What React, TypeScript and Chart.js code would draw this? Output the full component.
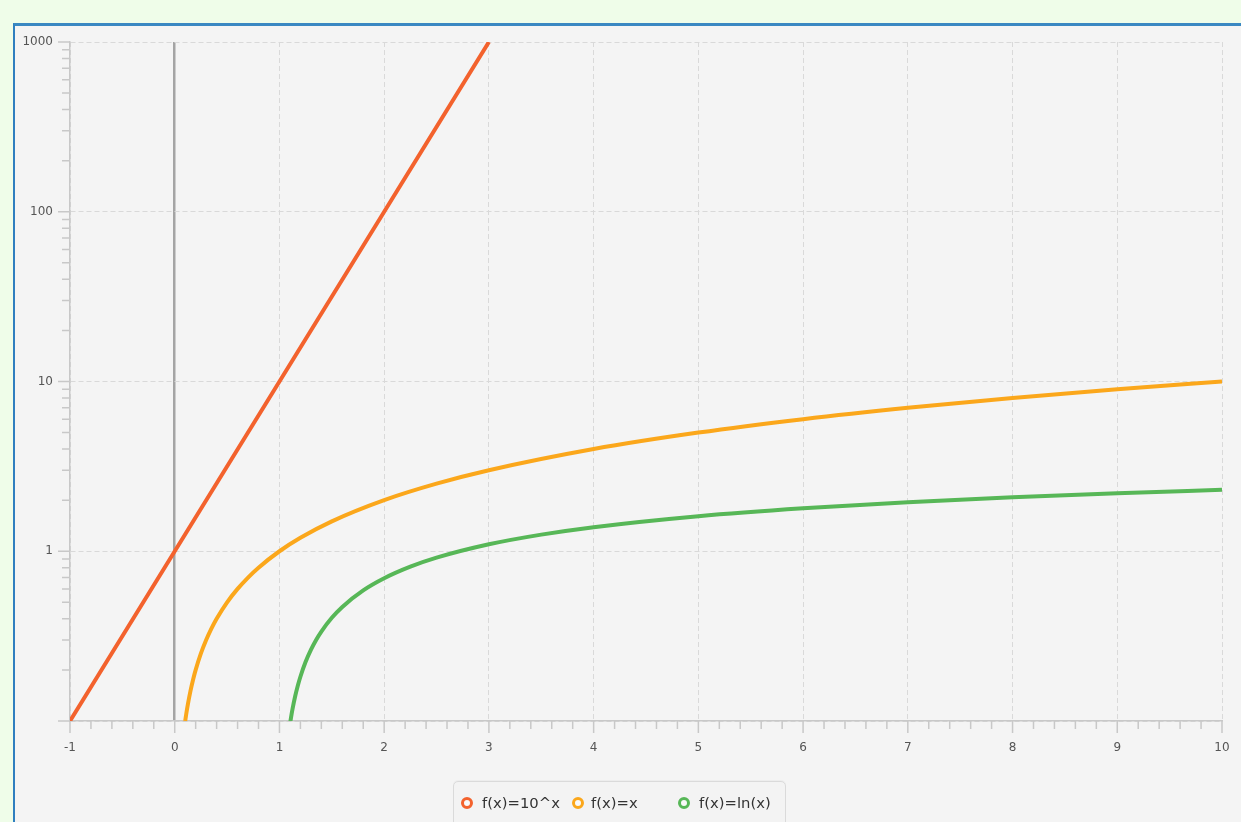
import React, { useEffect, useRef } from 'react';
import { Chart, registerables } from 'chart.js';

Chart.register(...registerables);

// f(x) = 10^x
const powX = [-1, 0, 1, 2, 3];
const powY = [0.1, 1, 10, 100, 1000];

// f(x) = x
const idX = [0.1, 0.11, 0.125, 0.15, 0.175, 0.2, 0.25, 0.3, 0.35, 0.4, 0.5, 0.6, 0.7, 0.8, 1, 1.2, 1.5, 2, 2.5, 3, 4, 5, 6, 7, 8, 9, 10];
const idY = [0.1, 0.11, 0.125, 0.15, 0.175, 0.2, 0.25, 0.3, 0.35, 0.4, 0.5, 0.6, 0.7, 0.8, 1, 1.2, 1.5, 2, 2.5, 3, 4, 5, 6, 7, 8, 9, 10];

// f(x) = ln(x)
const lnX = [1.1, 1.11, 1.125, 1.15, 1.175, 1.2, 1.25, 1.3, 1.35, 1.4, 1.5, 1.6, 1.8, 2, 2.25, 2.5, 3, 3.5, 4, 5, 6, 7, 8, 9, 10];
const lnY = [0.0953, 0.1044, 0.1178, 0.1398, 0.1613, 0.1823, 0.2231, 0.2624, 0.3001, 0.3365, 0.4055, 0.47, 0.5878, 0.6931, 0.8109, 0.9163, 1.0986, 1.2528, 1.3863, 1.6094, 1.7918, 1.9459, 2.0794, 2.1972, 2.3026];

const seriesNames = ['f(x)=10^x', 'f(x)=x', 'f(x)=ln(x)'];
const seriesColors = ['#f3622d', '#fba71b', '#57b757'];

const xMin = -1;
const xMax = 10;
const yMajorTicks = [0.1, 1, 10, 100, 1000];
const yTickLabels = ['', '1', '10', '100', '1000'];

const AXIS_COLOR = '#c8c8c8';
const LABEL_COLOR = '#555555';

const toPoints = (xs: number[], ys: number[]) => xs.map((x, i) => ({ x, y: ys[i] }));

// Major and minor tick marks on both axes
const axisTicks = {
  id: 'axisTicks',
  beforeDatasetsDraw(chart: any) {
    const { ctx, chartArea, scales } = chart;
    const xs = scales.x;
    const ys = scales.y;
    ctx.save();
    ctx.strokeStyle = AXIS_COLOR;
    ctx.lineWidth = 1.5;
    ctx.beginPath();
    const steps = Math.round((xMax - xMin) / 0.2);
    for (let i = 0; i <= steps; i++) {
      const v = xMin + i * 0.2;
      const major = i % 5 === 0;
      const px = xs.getPixelForValue(v);
      ctx.moveTo(px, chartArea.bottom);
      ctx.lineTo(px, chartArea.bottom + (major ? 12 : 8));
    }
    for (let d = 0; d < yMajorTicks.length; d++) {
      const base = yMajorTicks[d];
      const py = ys.getPixelForValue(base);
      ctx.moveTo(chartArea.left - 12, py);
      ctx.lineTo(chartArea.left, py);
      if (d < yMajorTicks.length - 1) {
        for (let k = 2; k <= 9; k++) {
          const pm = ys.getPixelForValue(base * k);
          ctx.moveTo(chartArea.left - 8, pm);
          ctx.lineTo(chartArea.left, pm);
        }
      }
    }
    ctx.stroke();
    ctx.restore();
  },
};

const isZero = (c: any) => c && c.tick && c.tick.value === 0;

export default function App() {
  const canvasRef = useRef<HTMLCanvasElement | null>(null);

  useEffect(() => {
    const canvas = canvasRef.current;
    if (!canvas) return;
    const tickFont = { family: '"DejaVu Sans", sans-serif', size: 12 };
    const chart = new Chart(canvas, {
      type: 'scatter',
      data: {
        datasets: [
          { label: seriesNames[0], data: toPoints(powX, powY), borderColor: seriesColors[0], tension: 0 },
          { label: seriesNames[1], data: toPoints(idX, idY), borderColor: seriesColors[1], cubicInterpolationMode: 'monotone' },
          { label: seriesNames[2], data: toPoints(lnX, lnY), borderColor: seriesColors[2], cubicInterpolationMode: 'monotone' },
        ].map((d: any) => ({
          ...d,
          showLine: true,
          borderWidth: 4,
          pointRadius: 0,
          pointHoverRadius: 0,
          backgroundColor: d.borderColor,
          clip: 0,
        })),
      },
      options: {
        animation: false,
        responsive: false,
        events: [],
        layout: { padding: { left: 0, right: 19, top: 42, bottom: 61 } },
        plugins: { legend: { display: false }, tooltip: { enabled: false } },
        scales: {
          x: {
            type: 'linear',
            min: xMin,
            max: xMax,
            afterFit: (s: any) => { s.height = 40; },
            ticks: {
              stepSize: 1,
              padding: 8,
              color: LABEL_COLOR,
              font: tickFont,
              maxRotation: 0,
              autoSkip: false,
              callback: (v: any) => String(v),
            },
            grid: {
              color: (c: any) => (isZero(c) ? '#a4a4a4' : '#d9d9d9'),
              lineWidth: (c: any) => (isZero(c) ? 2.5 : 1),
              drawTicks: true,
              tickLength: 12,
              tickColor: 'rgba(0,0,0,0)',
            },
            border: {
              display: true,
              color: AXIS_COLOR,
              width: 1.5,
              dash: (c: any) => (isZero(c) ? [] : [5, 3]),
            },
          },
          y: {
            type: 'logarithmic',
            min: 0.1,
            max: 1000,
            afterFit: (s: any) => { s.width = 70; },
            afterBuildTicks: (s: any) => { s.ticks = yMajorTicks.map((v) => ({ value: v })); },
            ticks: {
              padding: 5,
              color: LABEL_COLOR,
              font: tickFont,
              autoSkip: false,
              callback: (_v: any, i: number) => yTickLabels[i],
            },
            grid: {
              color: '#d9d9d9',
              lineWidth: 1,
              drawTicks: true,
              tickLength: 12,
              tickColor: 'rgba(0,0,0,0)',
            },
            border: { display: true, color: AXIS_COLOR, width: 1.5, dash: [5, 3] },
          },
        },
      } as any,
      plugins: [axisTicks],
    });
    return () => chart.destroy();
  }, []);

  const legendItems = [
    { dot: 467, text: 482 },
    { dot: 578, text: 591 },
    { dot: 684, text: 699 },
  ];

  return (
    <div style={{ position: 'fixed', left: 0, top: 0, width: 1241, height: 822, background: '#effde9', overflow: 'hidden' }}>
      <div
        style={{
          position: 'absolute',
          left: 13,
          top: 23,
          width: 1240,
          height: 820,
          background: '#f4f4f4',
          borderLeft: '2px solid #2f7fbf',
          borderTop: '3px solid #3a88c2',
          borderRight: '1px solid #9ccbe8',
          boxSizing: 'border-box',
        }}
      />
      <canvas ref={canvasRef} width={1241} height={822} style={{ position: 'absolute', left: 0, top: 0, width: 1241, height: 822 }} />
      <div
        style={{
          position: 'absolute',
          left: 453,
          top: 781,
          width: 333,
          height: 60,
          background: '#f3f3f3',
          border: '1px solid #dadada',
          borderRadius: 5,
          boxSizing: 'border-box',
          boxShadow: '0 -1px 1px rgba(0,0,0,0.03)',
        }}
      />
      {seriesNames.map((name, i) => (
        <React.Fragment key={name}>
          <div
            style={{
              position: 'absolute',
              left: legendItems[i].dot - 6,
              top: 803 - 6,
              width: 12,
              height: 12,
              borderRadius: '50%',
              border: `3px solid ${seriesColors[i]}`,
              background: '#f9f9f9',
              boxSizing: 'border-box',
            }}
          />
          <div
            style={{
              position: 'absolute',
              left: legendItems[i].text,
              top: 794,
              height: 18,
              lineHeight: '18px',
              fontFamily: '"DejaVu Sans", sans-serif',
              fontSize: 14.8,
              color: '#333333',
              whiteSpace: 'nowrap',
            }}
          >
            {name}
          </div>
        </React.Fragment>
      ))}
    </div>
  );
}
